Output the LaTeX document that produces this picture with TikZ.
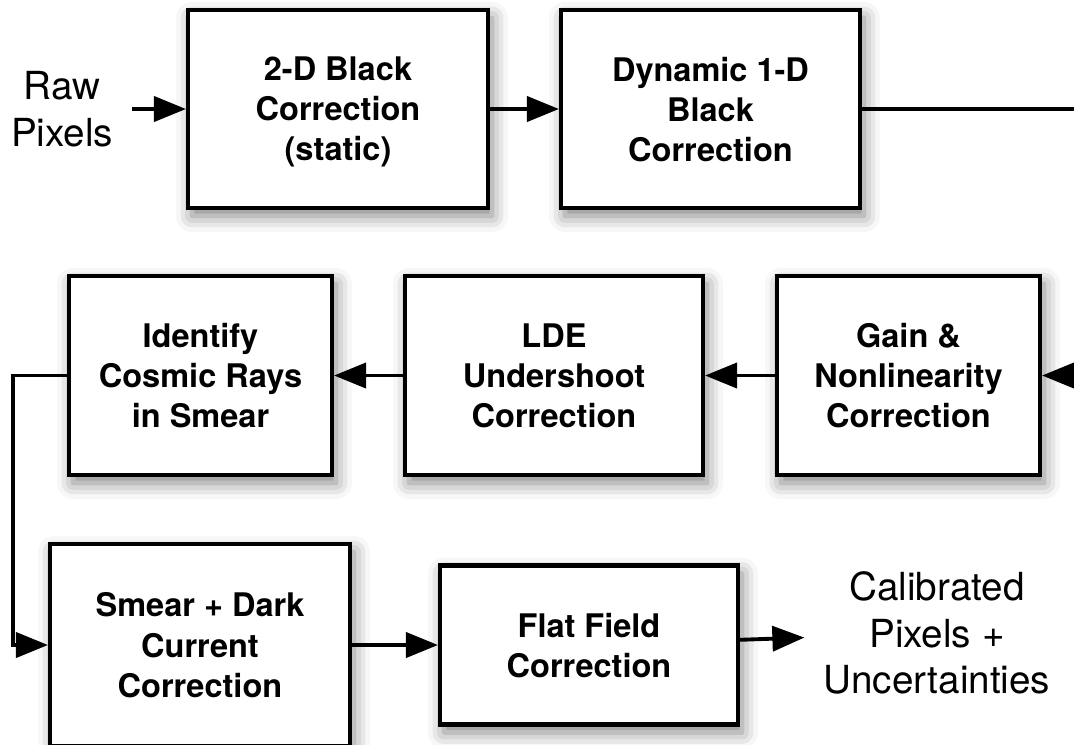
\documentclass[tikz,border=0pt]{standalone}
\usepackage{fontspec}
\setmainfont{TeX Gyre Heros}
\usetikzlibrary{arrows.meta,shadows.blur}

\tikzset{
  stage/.style={draw,line width=2.3pt,fill=white,align=center,inner sep=0pt,
    font=\bfseries\fontsize{18.5}{22.8}\selectfont,text depth=-0.1cm,
    blur shadow={shadow xshift=0.08cm,shadow yshift=-0.16cm,shadow blur radius=0.32cm,shadow opacity=50}},
  iotext/.style={align=center,inner sep=0.38cm,font=\fontsize{22}{26.5}\selectfont},
  flow/.style={line width=2.2pt,-{Triangle[length=0.64cm,width=0.5cm]}}
}

\begin{document}
\begin{tikzpicture}
  % \draw [help lines] (0,-15) grid (22,0);
  \useasboundingbox (0,0) rectangle (21.48,-14.88);

  % 第一行
  \node[iotext] (raw) at (1.24,-2.18) {Raw\\Pixels};
  \node[stage,minimum width=6cm,minimum height=3.96cm] (black2d) at (6.76,-2.18) {2-D Black\\Correction\\(static)};
  \node[stage,minimum width=5.98cm,minimum height=3.96cm] (black1d) at (14.21,-2.18) {Dynamic 1-D\\Black\\Correction};

  % 第二行
  \node[stage,minimum width=5.26cm,minimum height=3.98cm] (gain) at (18.17,-7.51) {Gain \&\\Nonlinearity\\Correction};
  \node[stage,minimum width=5.96cm,minimum height=3.98cm] (lde) at (11.08,-7.51) {LDE\\Undershoot\\Correction};
  \node[stage,minimum width=5.26cm,minimum height=3.98cm] (cosmic) at (4.01,-7.51) {Identify\\Cosmic Rays\\in Smear};

  % 第三行
  \node[stage,minimum width=6cm,minimum height=4.04cm] (smear) at (4.0,-12.9) {Smear + Dark\\Current\\Correction};
  \node[stage,minimum width=5.96cm,minimum height=3.18cm] (flat) at (11.78,-12.9) {Flat Field\\Correction};
  \node[iotext] (calib) at (18.74,-12.66) {Calibrated\\Pixels +\\Uncertainties};

  % 连线
  \coordinate (outA) at (21.48,-2.18);
  \coordinate (inB) at (21.48,-7.51);
  \coordinate (turn) at (0.26,-7.51);

  \draw[flow] (raw) -- (black2d);
  \draw[flow] (black2d) -- (black1d);
  \draw[line width=2.2pt] (black1d) -- (outA);
  \draw[flow] (inB) -- (gain);
  \draw[flow] (gain) -- (lde);
  \draw[flow] (lde) -- (cosmic);
  \draw[flow] (cosmic.west) -- (turn) |- (smear.west);
  \draw[flow] (smear) -- (flat);
  \draw[flow] (flat) -- (calib);
\end{tikzpicture}
\end{document}
